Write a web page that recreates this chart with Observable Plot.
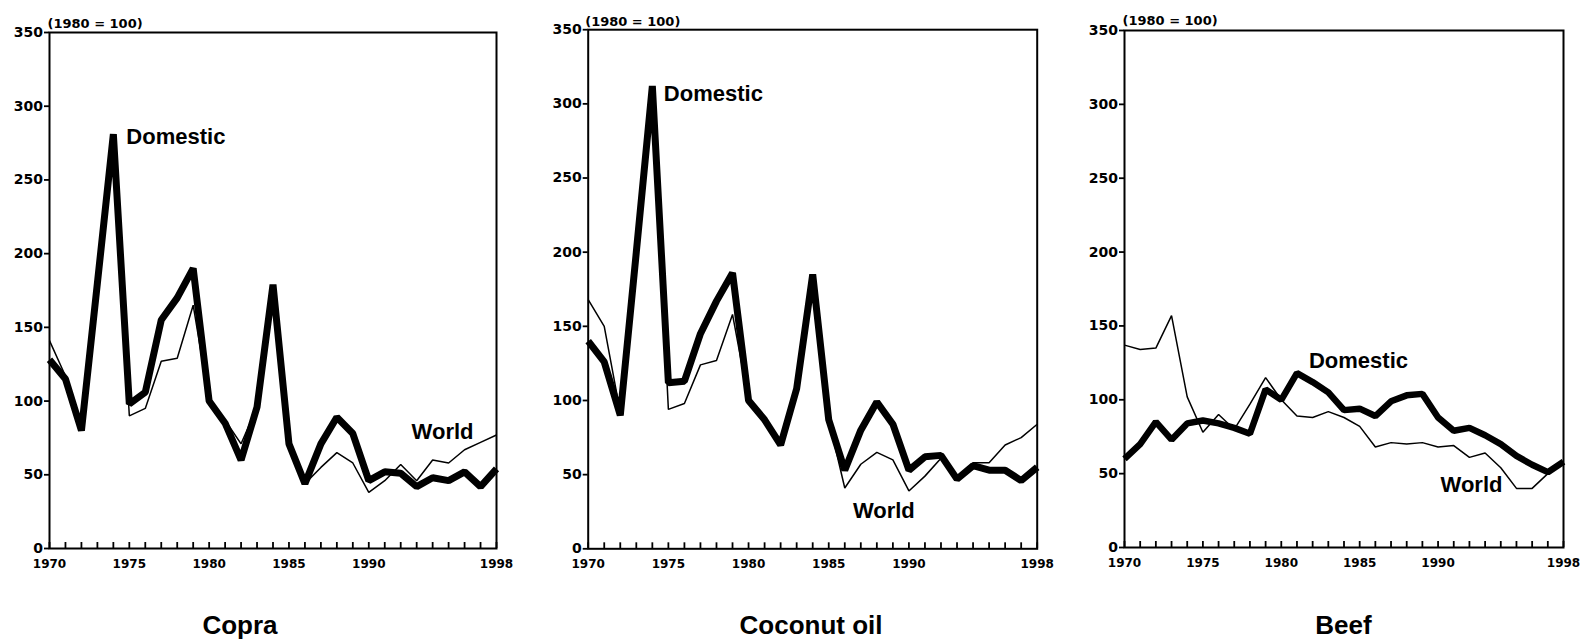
<!DOCTYPE html>
<html>
<head>
<meta charset="utf-8">
<script src="https://cdn.jsdelivr.net/npm/d3@7"></script>
<script src="https://cdn.jsdelivr.net/npm/@observablehq/plot@0.6"></script>
<style>
  body { margin: 0; background: #fff; }
  #wrap { position: relative; width: 1594px; height: 643px; overflow: hidden; background: #fff; }
  .panel { position: absolute; top: 0; }
  .title { position: absolute; top: 612px; font-family: "Liberation Sans", Arial, sans-serif; font-weight: bold;
           font-size: 26px; line-height: 26px; transform: translateX(-50%); white-space: nowrap; color: #000; }
</style>
</head>
<body>
<div id="wrap"></div>
<script>
// ---------- data ----------
const years = [1970, 1971, 1972, 1973, 1974, 1975, 1976, 1977, 1978, 1979,
               1980, 1981, 1982, 1983, 1984, 1985, 1986, 1987, 1988, 1989,
               1990, 1991, 1992, 1993, 1994, 1995, 1996, 1997, 1998];
const labelYears = [1970, 1975, 1980, 1985, 1990, 1998];
const yTicks = [0, 50, 100, 150, 200, 250, 300, 350];
const baseLabel = "(1980 = 100)";
const titles = ["Copra", "Coconut oil", "Beef"];
const seriesNames = ["Domestic", "World"];

const copraDomestic = [128, 115, 80, 180, 281, 98, 106, 155, 170, 190, 100, 85, 60, 96, 179, 71, 44, 71, 89, 78, 46, 52, 51, 42, 48, 46, 52, 42, 54];
const copraWorld    = [141, 117, 82, 178, 280, 90, 95, 127, 129, 165, 100, 87, 71, 96, 178, 72, 44, 55, 65, 58, 38, 46, 57, 46, 60, 58, 67, 72, 77];

const cocoDomestic  = [140, 126, 90, 200, 312, 112, 113, 145, 167, 186, 100, 87, 70, 108, 185, 87, 53, 80, 99, 84, 53, 62, 63, 47, 56, 53, 53, 46, 55];
const cocoWorld     = [168, 150, 92, 200, 312, 94, 98, 124, 127, 158, 100, 87, 70, 107, 185, 87, 41, 57, 65, 60, 39, 49, 61, 48, 58, 58, 70, 75, 84];

const beefDomestic  = [60, 70, 85, 73, 84, 86, 84, 81, 77, 107, 100, 118, 112, 105, 93, 94, 89, 99, 103, 104, 88, 79, 81, 76, 70, 62, 56, 51, 58];
const beefWorld     = [137, 134, 135, 157, 102, 78, 90, 80, 97, 115, 100, 89, 88, 92, 88, 82, 68, 71, 70, 71, 68, 69, 61, 64, 54, 40, 40, 50, 58];

// ---------- layout ----------
const panels = [
  { title: titles[0], domestic: copraDomestic, world: copraWorld,
    left: 0, width: 530, marginLeft: 49, marginRight: 34, marginTop: 32, marginBottom: 40, titleX: 240,
    baseDx: -2, baseDy: -14, domW: 7,
    notes: [
      { series: "Domestic", year: 1974, anchor: "start", dx: 13, dy: 3 },
      { series: "World", year: 1998, anchor: "end", dx: -23, dy: -3 }
    ] },
  { title: titles[1], domestic: cocoDomestic, world: cocoWorld,
    left: 530, width: 530, marginLeft: 57.7, marginRight: 23.3, marginTop: 29.2, marginBottom: 39.7, titleX: 811,
    baseDx: -3, baseDy: -12.5, domW: 7,
    notes: [
      { series: "Domestic", year: 1974, anchor: "start", dx: 11.5, dy: 7.7 },
      { series: "World", year: 1988, anchor: "middle", dx: 7, dy: 59 }
    ] },
  { title: titles[2], domestic: beefDomestic, world: beefWorld,
    left: 1060, width: 534, marginLeft: 64, marginRight: 31, marginTop: 30, marginBottom: 41, titleX: 1343.5,
    baseDx: -2, baseDy: -15, domW: 6.5,
    notes: [
      { series: "Domestic", year: 1981, anchor: "start", dx: 12, dy: -12.6 },
      { series: "World", year: 1995, anchor: "end", dx: -14, dy: -3 }
    ] }
];

const wrap = document.getElementById("wrap");
const H = 588;

for (const p of panels) {
  const dom = years.map((year, i) => ({ year, value: p.domestic[i] }));
  const wor = years.map((year, i) => ({ year, value: p.world[i] }));
  const noteMarks = p.notes.map(n => {
    const src = n.series === seriesNames[0] ? dom : wor;
    const pt = src.filter(d => d.year === n.year);
    return Plot.text(pt, {
      x: "year", y: "value", text: () => n.series,
      textAnchor: n.anchor, dx: n.dx, dy: n.dy, lineAnchor: "middle",
      fontFamily: "'Liberation Sans', Arial, sans-serif", fontWeight: "bold", fontSize: 22, fill: "#000"
    });
  });

  const chart = Plot.plot({
    width: p.width, height: H,
    marginLeft: p.marginLeft, marginRight: p.marginRight,
    marginTop: p.marginTop, marginBottom: p.marginBottom,
    x: { domain: [1970, 1998] },
    y: { domain: [0, 350] },
    style: { fontFamily: "'DejaVu Sans', sans-serif", fontWeight: "bold", fontSize: "12px",
             color: "#000", background: "transparent", overflow: "visible" },
    marks: [
      Plot.line(wor, { x: "year", y: "value", stroke: "#000", strokeWidth: 1.5,
                       strokeLinejoin: "miter", strokeLinecap: "butt" }),
      Plot.line(dom, { x: "year", y: "value", stroke: "#000", strokeWidth: p.domW,
                       strokeLinejoin: "miter", strokeLinecap: "butt" }),
      Plot.frame({ stroke: "#000", strokeWidth: 2 }),
      // inward yearly tick marks only (no text)
      Plot.axisX({ ticks: years, tickSize: 6, dy: -6, tickFormat: () => "", fill: "none",
                   label: null, stroke: "#000", strokeWidth: 1.8 }),
      Plot.axisX({ ticks: labelYears, tickSize: 0, tickPadding: 11, tickFormat: d => String(d),
                   label: null, fontSize: 12 }),
      Plot.axisY({ ticks: yTicks, tickSize: 5, tickPadding: 1.5, tickFormat: d => String(d),
                   label: null, fontSize: 14, strokeWidth: 1.8 }),
      Plot.text([baseLabel], { text: d => d, frameAnchor: "top-left", textAnchor: "start",
                               dx: p.baseDx, dy: p.baseDy, fontSize: 13 }),
      ...noteMarks
    ]
  });

  const div = document.createElement("div");
  div.className = "panel";
  div.style.left = p.left + "px";
  div.style.width = p.width + "px";
  div.appendChild(chart);
  wrap.appendChild(div);

  const t = document.createElement("div");
  t.className = "title";
  t.style.left = p.titleX + "px";
  t.textContent = p.title;
  wrap.appendChild(t);
}
</script>
</body>
</html>
